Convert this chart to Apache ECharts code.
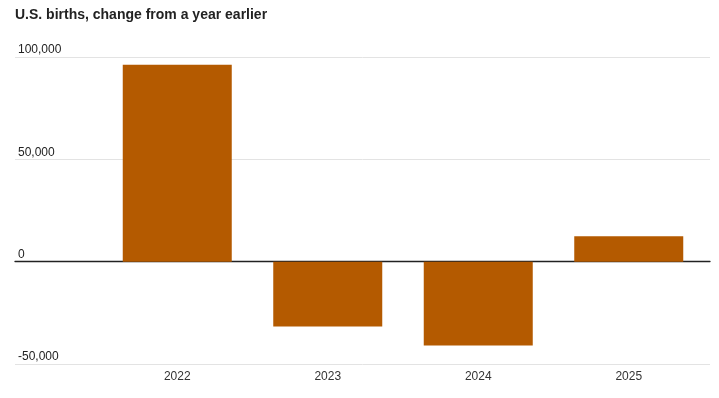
<!DOCTYPE html>
<html><head><meta charset="utf-8">
<script src="https://cdn.jsdelivr.net/npm/echarts@6/dist/echarts.min.js"></script>
<style>html,body{margin:0;padding:0;background:#fff}#c{width:719px;height:398px}</style>
</head><body><div id="c"></div>
<script>
const titleText = 'U.S. births, change from a year earlier';
const categories = ['2022', '2023', '2024', '2025'];
const birthsChange = [96200, -31700, -40900, 12400];
const yMin = -50000, yMax = 100000, yStep = 50000;

const chart = echarts.init(document.getElementById('c'), null, {renderer: 'canvas'});
const barColor = '#b45a00';
chart.setOption({
  animation: false,
  backgroundColor: '#fff',
  title: {
    text: titleText, left: 10, top: 3,
    textStyle: {fontFamily: 'Liberation Sans, sans-serif', fontWeight: 'bold', fontSize: 14, color: '#222'}
  },
  grid: [
    {left: 15, right: 9, top: 57, bottom: 34},
    {left: 102, right: 15, top: 57, bottom: 34}
  ],
  xAxis: [
    {gridIndex: 0, type: 'value', min: 0, max: 1, show: true,
     axisLine: {show: true, onZero: true, lineStyle: {color: '#222', width: 1.3}},
     axisTick: {show: false}, axisLabel: {show: false}, splitLine: {show: false}},
    {gridIndex: 1, type: 'category', data: categories,
     axisLine: {show: false}, axisTick: {show: false},
     axisLabel: {margin: 7, color: '#333', fontSize: 12, fontFamily: 'Liberation Sans, sans-serif'}}
  ],
  yAxis: [
    {gridIndex: 0, type: 'value', min: yMin, max: yMax, interval: yStep,
     axisLine: {show: false}, axisTick: {show: false},
     axisLabel: {inside: true, margin: 3, verticalAlign: 'bottom', padding: [0, 0, 1, 0],
       color: '#222', fontSize: 12, fontFamily: 'Liberation Sans, sans-serif',
       formatter: v => v.toLocaleString('en-US')},
     splitLine: {show: true, lineStyle: {color: '#e3e3e3', width: 1}}},
    {gridIndex: 1, type: 'value', min: yMin, max: yMax, interval: yStep, show: false,
     splitLine: {show: false}}
  ],
  series: [{
    type: 'bar', xAxisIndex: 1, yAxisIndex: 1, data: birthsChange, barWidth: 109,
    itemStyle: {color: barColor}, z: 1
  }]
});
</script></body></html>
